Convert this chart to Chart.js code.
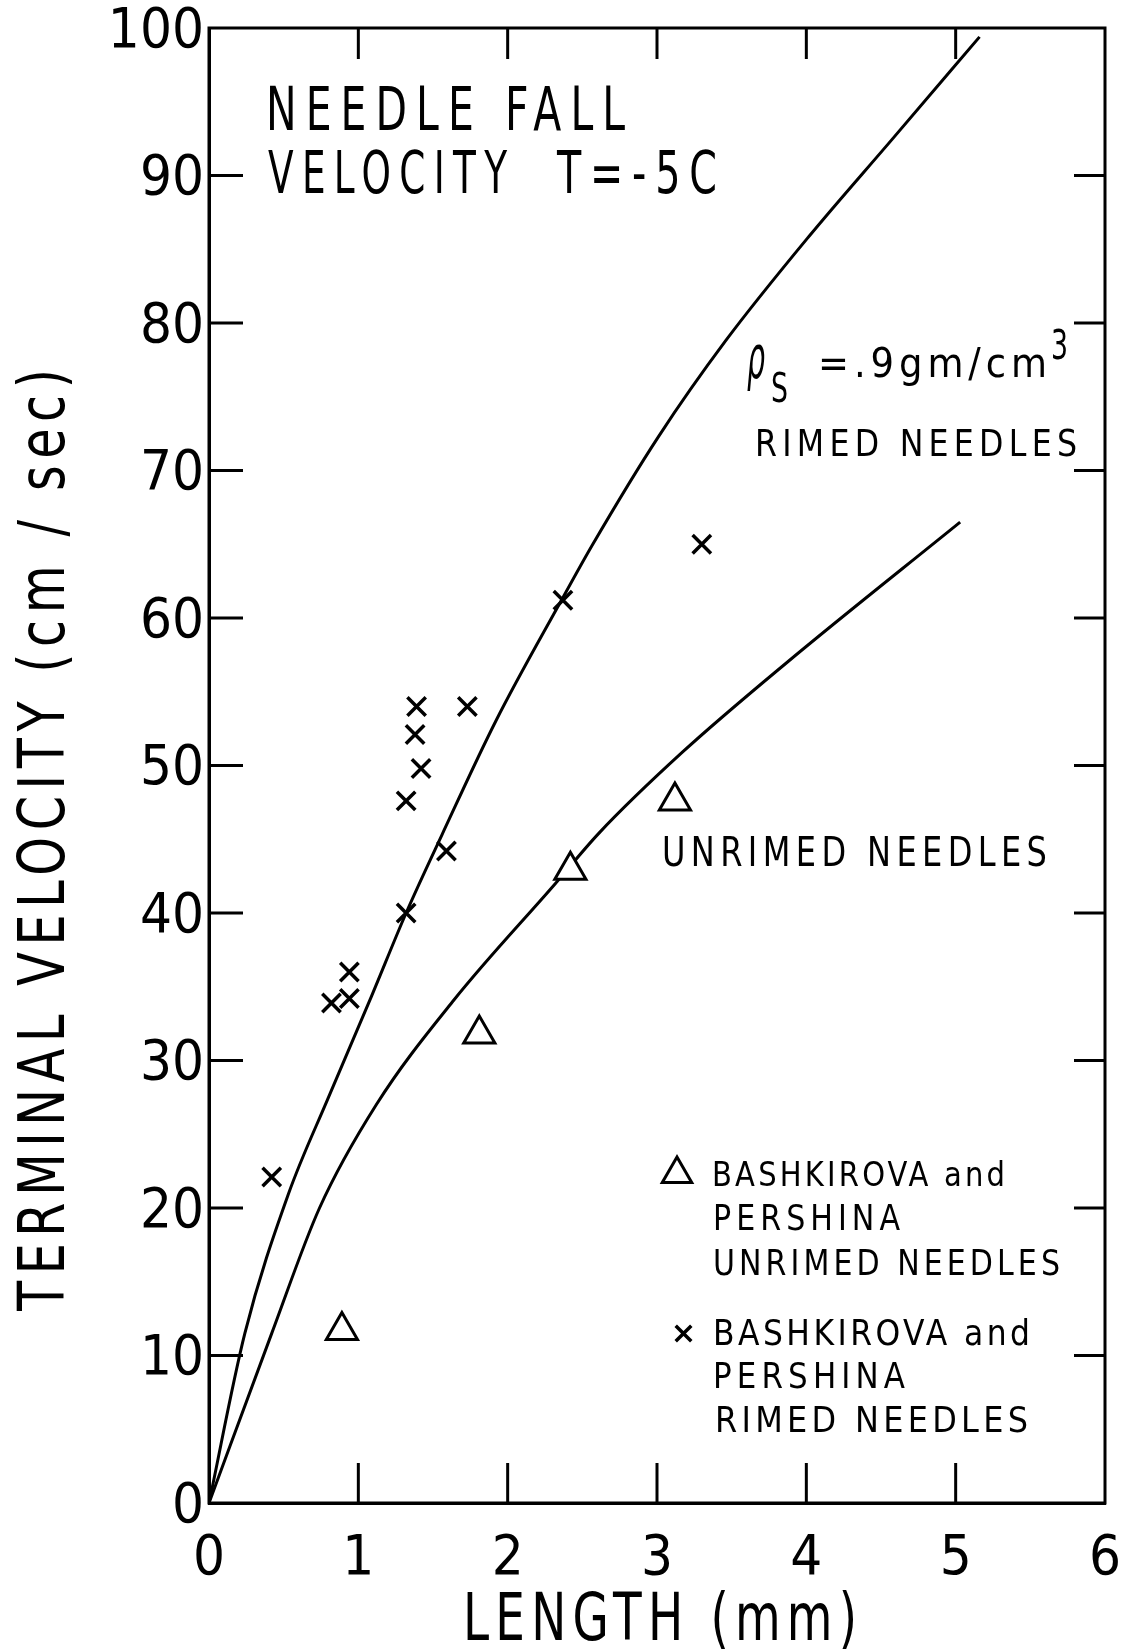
<!DOCTYPE html>
<html>
<head>
<meta charset="utf-8">
<title>Needle fall velocity</title>
<script src="https://cdn.jsdelivr.net/npm/chart.js@4.4.1/dist/chart.umd.min.js"></script>
<style>
  html, body { margin: 0; padding: 0; background: #fff; }
  #wrap { width: 1126px; height: 1651px; }
</style>
</head>
<body>
<div id="wrap"><canvas id="c" width="1126" height="1651"></canvas></div>
<script>
// ---------- data ----------
const xTickValues = [0, 1, 2, 3, 4, 5, 6];
const yTickValues = [0, 10, 20, 30, 40, 50, 60, 70, 80, 90, 100];

// curve: rho_s = .9 gm/cm3, rimed needles
const rimedCurveX = [0, 0.24, 0.53, 0.80, 1.09, 1.32, 1.56, 1.92, 2.36, 2.57, 3.01, 3.46, 4.02, 4.57, 5.16];
const rimedCurveY = [0, 11.5, 20.9, 27.5, 34.4, 40.0, 45.3, 53.0, 61.2, 65.0, 72.3, 78.8, 85.9, 92.4, 99.4];

// curve: unrimed needles
const unrimedCurveX = [0, 0.42, 0.74, 1.12, 1.64, 2.32, 2.61, 3.17, 3.86, 5.03];
const unrimedCurveY = [0, 11.5, 20.0, 27.0, 34.1, 42.0, 45.4, 50.9, 56.9, 66.5];

// Bashkirova and Pershina, rimed needles (x)
const rimedObsX = [0.42, 0.82, 0.94, 0.94, 1.32, 1.32, 1.42, 1.38, 1.39, 1.59, 1.73, 2.37, 3.30];
const rimedObsY = [22.1, 33.9, 36.0, 34.2, 40.0, 47.6, 49.8, 52.1, 54.0, 44.2, 54.0, 61.2, 65.0];

// Bashkirova and Pershina, unrimed needles (triangles)
const unrimedObsX = [0.89, 1.81, 2.42, 3.12];
const unrimedObsY = [11.7, 31.8, 42.9, 47.6];

// ---------- font choice ----------
function fontAvailable(name) {
  const c = document.createElement('canvas').getContext('2d');
  const s = 'mmmmmmmmmmlli0123456789WWWNEEDLE';
  let diff = false;
  ['monospace', 'serif'].forEach(fb => {
    c.font = '50px ' + fb; const a = c.measureText(s).width;
    c.font = '50px "' + name + '", ' + fb; const b = c.measureText(s).width;
    if (Math.abs(a - b) > 0.5) diff = true;
  });
  return diff;
}
const narrowCandidates = ['Liberation Sans Narrow', 'DejaVu Sans Condensed', 'Roboto Condensed', 'Open Sans Condensed'];
let NARROW = null;
for (const n of narrowCandidates) { if (fontAvailable(n)) { NARROW = n; break; } }
const FONT = NARROW ? '"' + NARROW + '", "Liberation Sans", sans-serif' : '"Liberation Sans", "DejaVu Sans", sans-serif';

const pts = (xs, ys) => xs.map((v, i) => ({ x: v, y: ys[i] }));

// ---------- fitted text helper ----------
function fitText(ctx, text, x, base, cap, width, o) {
  o = o || {};
  const size = cap / 0.72;
  const ls = (o.ls === undefined ? 0.1 : o.ls) * size;
  ctx.save();
  ctx.font = (o.italic ? 'italic ' : '') + size.toFixed(1) + 'px ' + FONT;
  const hasLS = ('letterSpacing' in ctx);
  if (hasLS) ctx.letterSpacing = ls.toFixed(1) + 'px';
  let w = ctx.measureText(text).width;
  if (hasLS) w -= ls;
  const sx = width / w;
  ctx.translate(x, base);
  if (o.rot) ctx.rotate(o.rot);
  ctx.scale(sx, 1);
  ctx.textAlign = o.center ? 'center' : 'left';
  ctx.textBaseline = 'alphabetic';
  ctx.fillStyle = '#000';
  ctx.fillText(text, o.center && hasLS ? ls / 2 : 0, 0);
  ctx.restore();
}

function drawTriangle(ctx, cx, cy, r) {
  ctx.beginPath();
  let rad = 0;
  ctx.moveTo(cx + Math.sin(rad) * r, cy - Math.cos(rad) * r);
  rad += 2 * Math.PI / 3;
  ctx.lineTo(cx + Math.sin(rad) * r, cy - Math.cos(rad) * r);
  rad += 2 * Math.PI / 3;
  ctx.lineTo(cx + Math.sin(rad) * r, cy - Math.cos(rad) * r);
  ctx.closePath();
  ctx.fillStyle = '#fff'; ctx.fill();
  ctx.stroke();
}
function drawX(ctx, cx, cy, r) {
  const d = r * Math.SQRT1_2;
  ctx.beginPath();
  ctx.moveTo(cx - d, cy - d); ctx.lineTo(cx + d, cy + d);
  ctx.moveTo(cx - d, cy + d); ctx.lineTo(cx + d, cy - d);
  ctx.stroke();
}

// ---------- decoration plugin: frame, inward ticks, annotations, legend ----------
const decor = {
  id: 'decor',
  afterDraw(chart) {
    const ctx = chart.ctx, a = chart.chartArea, xs = chart.scales.x, ys = chart.scales.y;
    ctx.save();
    ctx.strokeStyle = '#000';
    ctx.lineWidth = 3;
    ctx.lineCap = 'butt';
    ctx.strokeRect(a.left, a.top, a.right - a.left, a.bottom - a.top);
    const seg = (x1, y1, x2, y2) => { ctx.beginPath(); ctx.moveTo(x1, y1); ctx.lineTo(x2, y2); ctx.stroke(); };
    yTickValues.forEach(v => {
      if (v <= ys.min || v >= ys.max) return;
      const p = ys.getPixelForValue(v);
      seg(a.left, p, a.left + 34, p);
      seg(a.right - 31, p, a.right, p);
    });
    xTickValues.forEach(v => {
      if (v <= xs.min || v >= xs.max) return;
      const p = xs.getPixelForValue(v);
      seg(p, a.bottom, p, a.bottom - 40);
      seg(p, a.top, p, a.top + 31);
    });

    // axis titles
    fitText(ctx, 'TERMINAL VELOCITY (cm / sec)', 64, 840, 46, 942, { rot: -Math.PI / 2, center: true, ls: 0.12 });
    fitText(ctx, 'LENGTH (mm)', 660, 1640, 47, 394, { center: true, ls: 0.12 });

    // title block
    fitText(ctx, 'NEEDLE FALL', 266, 130, 43, 359, { ls: 0.2 });
    fitText(ctx, 'VELOCITY', 268, 193, 42, 239, { ls: 0.2 });
    fitText(ctx, 'T=-5C', 557, 193, 42, 160, { ls: 0.2 });

    // curve labels
    fitText(ctx, 'ρ', 747, 378, 44, 18, { italic: true, ls: 0 });
    fitText(ctx, 'S', 771, 402, 29, 17, { ls: 0 });
    fitText(ctx, '=.9gm/cm', 818, 377, 30, 229, { ls: 0.12 });
    fitText(ctx, '3', 1051, 359, 30, 17, { ls: 0 });
    fitText(ctx, 'RIMED NEEDLES', 755, 456, 27, 322, { ls: 0.15 });
    fitText(ctx, 'UNRIMED NEEDLES', 662, 866, 30, 385, { ls: 0.15 });

    // legend
    ctx.lineWidth = 3;
    drawTriangle(ctx, 677, 1174, 17);
    fitText(ctx, 'BASHKIROVA and', 712, 1186, 24, 293, { ls: 0.1 });
    fitText(ctx, 'PERSHINA', 713, 1230, 26, 187, { ls: 0.15 });
    fitText(ctx, 'UNRIMED NEEDLES', 713, 1275, 25, 347, { ls: 0.12 });
    ctx.lineWidth = 3.5;
    drawX(ctx, 683.5, 1333.5, 11);
    fitText(ctx, 'BASHKIROVA and', 713, 1345, 26, 317, { ls: 0.1 });
    fitText(ctx, 'PERSHINA', 713, 1388, 26, 192, { ls: 0.15 });
    fitText(ctx, 'RIMED NEEDLES', 715, 1432, 25, 313, { ls: 0.12 });
    ctx.restore();
  }
};

// ---------- chart ----------
const tickFont = { family: FONT, size: 56, weight: 'normal' };

new Chart(document.getElementById('c'), {
  type: 'scatter',
  data: {
    datasets: [
      {
        label: 'Bashkirova and Pershina unrimed needles',
        data: pts(unrimedObsX, unrimedObsY),
        pointStyle: 'triangle', pointRadius: 18, pointBorderWidth: 3,
        pointBorderColor: '#000', pointBackgroundColor: '#fff',
        showLine: false, order: 0
      },
      {
        label: 'Bashkirova and Pershina rimed needles',
        data: pts(rimedObsX, rimedObsY),
        pointStyle: 'crossRot', pointRadius: 13, pointBorderWidth: 3.5,
        pointBorderColor: '#000', pointBackgroundColor: '#000',
        showLine: false, order: 1
      },
      {
        label: 'Rimed needles (rho_s = .9 gm/cm3)',
        data: pts(rimedCurveX, rimedCurveY),
        showLine: true, pointRadius: 0, borderColor: '#000', borderWidth: 3,
        cubicInterpolationMode: 'monotone', fill: false, order: 2
      },
      {
        label: 'Unrimed needles',
        data: pts(unrimedCurveX, unrimedCurveY),
        showLine: true, pointRadius: 0, borderColor: '#000', borderWidth: 3,
        cubicInterpolationMode: 'monotone', fill: false, order: 3
      }
    ]
  },
  options: {
    responsive: false,
    animation: false,
    devicePixelRatio: 1,
    layout: { padding: { top: 28, right: 19, left: 0, bottom: 0 } },
    plugins: { legend: { display: false }, tooltip: { enabled: false }, title: { display: false } },
    scales: {
      x: {
        type: 'linear', position: 'bottom', min: 0, max: 6,
        afterBuildTicks: s => { s.ticks = xTickValues.map(v => ({ value: v })); },
        afterFit: s => { s.height = 148; s.paddingLeft = 0; s.paddingRight = 0; },
        ticks: { color: '#000', font: tickFont, padding: 23, maxRotation: 0, autoSkip: false },
        grid: { display: true, drawOnChartArea: false, drawTicks: false, color: '#000' },
        border: { display: true, color: '#000', width: 3 }
      },
      y: {
        type: 'linear', position: 'left', min: 0, max: 100,
        afterBuildTicks: s => { s.ticks = yTickValues.map(v => ({ value: v })); },
        afterFit: s => { s.width = 209; s.paddingTop = 0; s.paddingBottom = 0; },
        ticks: { color: '#000', font: tickFont, padding: 5, labelOffset: 4, autoSkip: false },
        grid: { display: true, drawOnChartArea: false, drawTicks: false, color: '#000' },
        border: { display: true, color: '#000', width: 3 }
      }
    }
  },
  plugins: [decor]
});
</script>
</body>
</html>
